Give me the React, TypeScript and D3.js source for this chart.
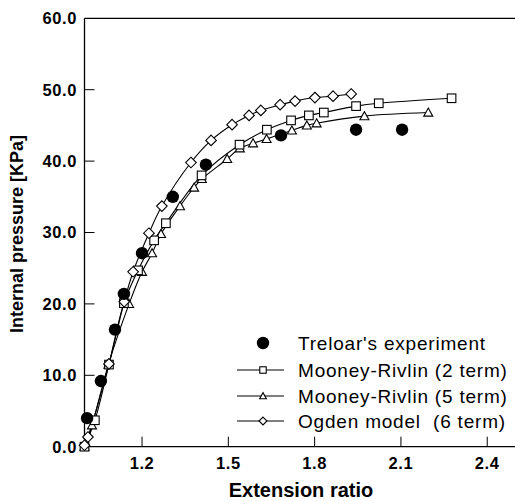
import React from "react";
import * as d3 from "d3";

const treloarX = [1.009, 1.057, 1.106, 1.137, 1.2, 1.307, 1.422, 1.683, 1.944, 2.104];
const treloarY = [4.0, 9.2, 16.4, 21.4, 27.1, 35.0, 39.5, 43.6, 44.4, 44.4];

const mr2X = [1.0, 1.036, 1.085, 1.137, 1.186, 1.242, 1.283, 1.407, 1.539, 1.634, 1.718, 1.78, 1.832, 1.944, 2.023, 2.276];
const mr2Y = [0, 3.7, 11.5, 20.1, 24.7, 28.9, 31.3, 38.0, 42.3, 44.4, 45.7, 46.4, 46.8, 47.7, 48.1, 48.8];

const mr5X = [1.0, 1.026, 1.083, 1.155, 1.2, 1.235, 1.266, 1.332, 1.381, 1.408, 1.496, 1.54, 1.586, 1.633, 1.721, 1.773, 1.807, 1.973, 2.195];
const mr5Y = [0, 3.0, 11.5, 20.0, 24.5, 27.1, 29.8, 33.7, 36.3, 37.5, 40.3, 41.8, 42.5, 43.1, 44.3, 45.0, 45.3, 46.3, 46.8];

const ogdenX = [1.0, 1.012, 1.085, 1.138, 1.169, 1.224, 1.269, 1.37, 1.44, 1.513, 1.572, 1.613, 1.68, 1.732, 1.801, 1.864, 1.927];
const ogdenY = [0.2, 1.36, 11.6, 20.3, 24.5, 29.9, 33.7, 39.8, 42.9, 45.1, 46.4, 47.1, 47.9, 48.4, 48.9, 49.1, 49.4];

const xTicks = [1.2, 1.5, 1.8, 2.1, 2.4];
const yTicks = [0, 10, 20, 30, 40, 50, 60];

const legendLabels = [
  "Treloar's experiment",
  "Mooney-Rivlin (2 term)",
  "Mooney-Rivlin (5 term)",
  "Ogden model  (6 term)",
];

const W = 515;
const H = 501;
const FONT = "'Liberation Sans', Arial, sans-serif";

const x = d3.scaleLinear().domain([1.0, 2.5]).range([84.5, 516]);
const y = d3.scaleLinear().domain([0, 60]).range([446.7, 18.3]);

const zip = (xs: number[], ys: number[]) => xs.map((v, i) => [v, ys[i]] as [number, number]);

const lineGen = d3
  .line<[number, number]>()
  .x((d) => x(d[0]))
  .y((d) => y(d[1]))
  .curve(d3.curveCatmullRom.alpha(0.5));

type MarkerKind = "circle" | "square" | "triangle" | "diamond";

function Marker({ kind, cx, cy, s = 1 }: { kind: MarkerKind; cx: number; cy: number; s?: number }) {
  if (kind === "circle") {
    return <circle cx={cx} cy={cy} r={6.2 * s} fill="#000" />;
  }
  if (kind === "square") {
    const h = 4.3 * s;
    return <rect x={cx - h} y={cy - h} width={2 * h} height={2 * h} fill="#fff" stroke="#000" strokeWidth={1.1} />;
  }
  if (kind === "triangle") {
    const h = 4.5 * s;
    const p = `${cx},${cy - h} ${cx + h},${cy + h * 0.8} ${cx - h},${cy + h * 0.8}`;
    return <polygon points={p} fill="#fff" stroke="#000" strokeWidth={1.1} />;
  }
  const h = 5.3 * s;
  const p = `${cx},${cy - h} ${cx + h},${cy} ${cx},${cy + h} ${cx - h},${cy}`;
  return <polygon points={p} fill="#fff" stroke="#000" strokeWidth={1.1} />;
}

export default function App() {
  const mr2 = zip(mr2X, mr2Y);
  const mr5 = zip(mr5X, mr5Y);
  const og = zip(ogdenX, ogdenY);
  const tr = zip(treloarX, treloarY);

  const legendY = [343, 370, 396, 421];
  const legendKinds: MarkerKind[] = ["circle", "square", "triangle", "diamond"];

  return (
    <svg
      width={W}
      height={H}
      style={{ position: "absolute", left: 0, top: 0, background: "#fff" }}
      fontFamily={FONT}
    >
      <rect x={0} y={0} width={W} height={H} fill="#fff" />
      {/* frame */}
      <line x1={x(1.0)} x2={W} y1={y(60)} y2={y(60)} stroke="#000" strokeWidth={1.3} />
      <line x1={x(1.0)} x2={x(1.0)} y1={y(60)} y2={y(0)} stroke="#000" strokeWidth={1.3} />
      <line x1={x(1.0)} x2={W} y1={y(0)} y2={y(0)} stroke="#000" strokeWidth={1.3} />

      {/* y ticks */}
      {yTicks.map((t) => (
        <g key={"y" + t}>
          {t > 0 && t < 60 && (
            <line x1={x(1.0)} x2={x(1.0) + 10} y1={y(t)} y2={y(t)} stroke="#000" strokeWidth={1} />
          )}
          <text
            x={77}
            y={y(t)}
            dy="0.36em"
            textAnchor="end"
            fontSize={16.5}
            letterSpacing={0.6}
            fontWeight={600}
          >
            {t.toFixed(1)}
          </text>
        </g>
      ))}

      {/* x ticks */}
      {xTicks.map((t) => (
        <g key={"x" + t}>
          <line x1={x(t)} x2={x(t)} y1={y(0)} y2={y(0) - 10} stroke="#000" strokeWidth={1} />
          <text x={x(t)} y={469} textAnchor="middle" fontSize={16.5} letterSpacing={0.6} fontWeight={600}>
            {t.toFixed(1)}
          </text>
        </g>
      ))}

      {/* axis titles */}
      <text x={301} y={497} textAnchor="middle" fontSize={20} fontWeight="bold">
        Extension ratio
      </text>
      <text
        transform={`translate(23,234) rotate(-90)`}
        textAnchor="middle"
        fontSize={18}
        fontWeight="bold"
      >
        Internal pressure [KPa]
      </text>

      {/* lines */}
      <path d={lineGen(mr2) || ""} fill="none" stroke="#000" strokeWidth={1.1} />
      <path d={lineGen(mr5) || ""} fill="none" stroke="#000" strokeWidth={1.1} />
      <path d={lineGen(og) || ""} fill="none" stroke="#000" strokeWidth={1.1} />

      {/* markers */}
      {mr5.map((d, i) => (
        <Marker key={"t" + i} kind="triangle" cx={x(d[0])} cy={y(d[1])} />
      ))}
      {mr2.map((d, i) => (
        <Marker key={"s" + i} kind="square" cx={x(d[0])} cy={y(d[1])} />
      ))}
      {og.map((d, i) => (
        <Marker key={"d" + i} kind="diamond" cx={x(d[0])} cy={y(d[1])} />
      ))}
      {tr.map((d, i) => (
        <Marker key={"c" + i} kind="circle" cx={x(d[0])} cy={y(d[1])} />
      ))}

      {/* legend */}
      {legendLabels.map((lab, i) => (
        <g key={"l" + i}>
          {i > 0 && <line x1={237} x2={284} y1={legendY[i]} y2={legendY[i]} stroke="#000" strokeWidth={1.1} />}
          <Marker kind={legendKinds[i]} cx={263} cy={legendY[i]} s={i === 0 ? 1 : 0.75} />
          <text
            x={298}
            y={legendY[i]}
            dy="0.36em"
            fontSize={19}
            letterSpacing={0.8}
            style={{ whiteSpace: "pre" }}
          >
            {lab}
          </text>
        </g>
      ))}
    </svg>
  );
}
